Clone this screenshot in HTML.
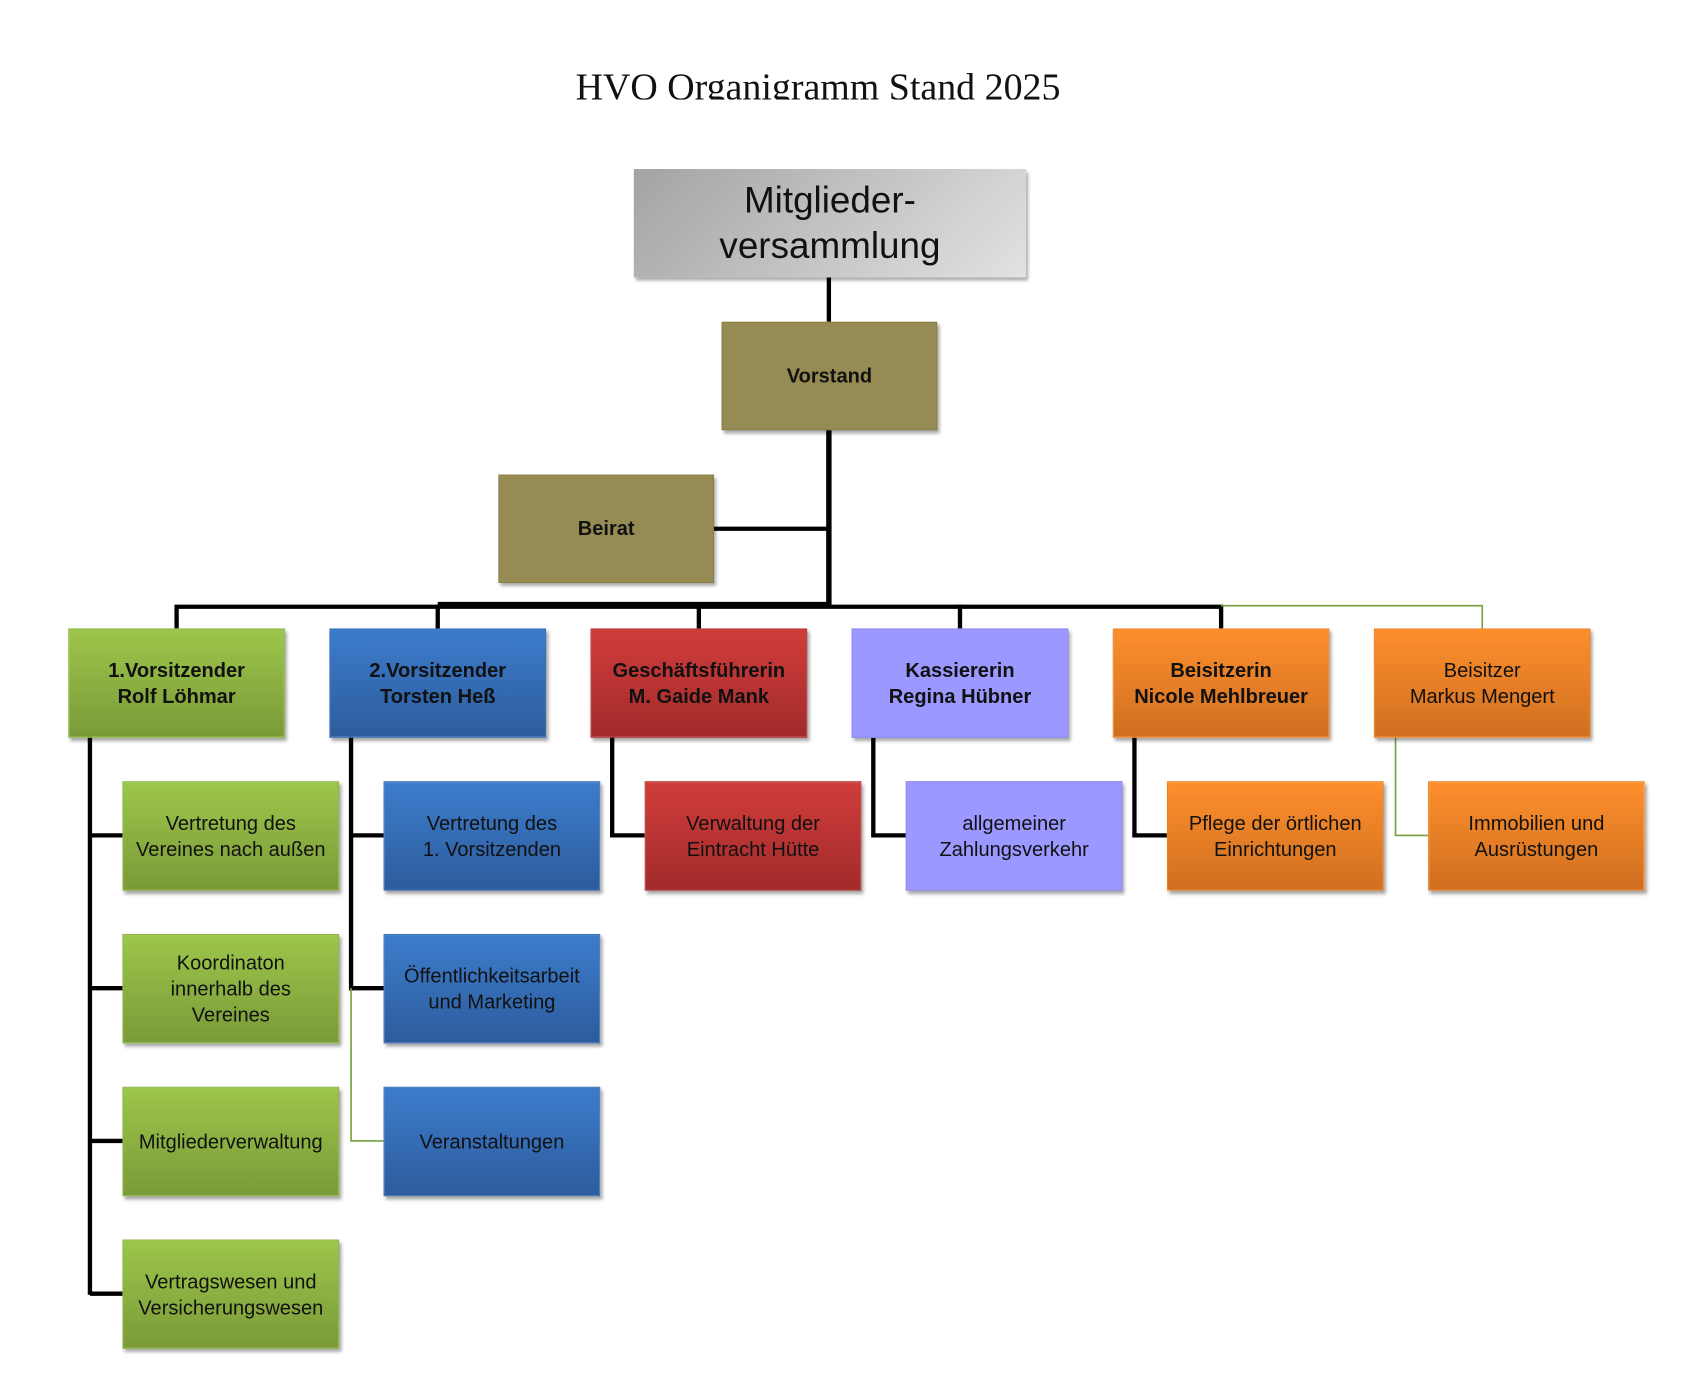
<!DOCTYPE html>
<html><head><meta charset="utf-8"><style>
html,body{margin:0;padding:0;background:#fff;width:1698px;height:1381px;overflow:hidden}
#w{position:absolute;left:0;top:0;width:1560px;height:1269px;transform:scale(1.0835);transform-origin:0 0}
.b{position:absolute;display:flex;align-items:center;justify-content:center;text-align:center;font-family:"Liberation Sans",sans-serif;font-size:18.5px;line-height:24px;color:#111;box-sizing:border-box;box-shadow:2px 3px 3px rgba(0,0,0,.35)}
.g{background:linear-gradient(#9dc64b,#7a9a38);border:1px solid #8db545}
.bl{background:linear-gradient(#3c7ccc,#2d5c9c);border:1px solid #3a6fb5}
.r{background:linear-gradient(#d03d3b,#a22b2b);border:1px solid #b83434}
.p{background:#9b99ff;border:1px solid #8f8df0}
.o{background:linear-gradient(#fd8f2d,#d06f20);border:1px solid #f08528}
.ol{background:#968b52;border:1px solid #8a8048}
.bold{font-weight:bold}
.w200{width:200px;height:101px}
</style></head><body><div id="w">
<div style="position:absolute;left:0;width:1510px;top:56px;height:36px;overflow:hidden;text-align:center;font-family:'Liberation Serif',serif;font-size:35px;line-height:50px;color:#111">HVO Organigramm Stand 2025</div>
<svg width="1560" height="1269" style="position:absolute;left:0;top:0">
<g stroke="#000" fill="none">
<line x1="765" y1="256" x2="765" y2="297" stroke-width="4"/>
<line x1="765" y1="397" x2="765" y2="560" stroke-width="5"/>
<line x1="659" y1="488" x2="765" y2="488" stroke-width="4"/>
<polyline points="163,580 163,560 1127,560 1127,580" stroke-width="4"/>
<line x1="404" y1="558" x2="404" y2="580" stroke-width="4"/>
<line x1="645" y1="558" x2="645" y2="580" stroke-width="4"/>
<line x1="886" y1="558" x2="886" y2="580" stroke-width="4"/>
<line x1="404" y1="558" x2="765" y2="558" stroke-width="5"/>
<line x1="83" y1="680" x2="83" y2="1195" stroke-width="4"/>
<line x1="83" y1="771" x2="113" y2="771" stroke-width="4"/>
<line x1="83" y1="912" x2="113" y2="912" stroke-width="4"/>
<line x1="83" y1="1053" x2="113" y2="1053" stroke-width="4"/>
<line x1="83" y1="1194" x2="113" y2="1194" stroke-width="4"/>
<line x1="324" y1="680" x2="324" y2="914" stroke-width="4"/>
<line x1="324" y1="771" x2="354" y2="771" stroke-width="4"/>
<line x1="324" y1="912" x2="354" y2="912" stroke-width="4"/>
<polyline points="565,680 565,771 595,771" stroke-width="4"/>
<polyline points="806,680 806,771 836,771" stroke-width="4"/>
<polyline points="1047,680 1047,771 1077,771" stroke-width="4"/>
</g>
<g stroke="#77a040" stroke-width="1.5" fill="none">
<polyline points="1127,559 1368,559 1368,580"/>
<polyline points="1288,680 1288,771 1318,771"/>
<polyline points="324,912 324,1053 354,1053"/>
</g>
</svg>
<div class="b" style="left:585px;top:156px;width:362px;height:100px;background:linear-gradient(135deg,#a3a3a3,#e2e2e2);font-size:34px;line-height:42px">Mitglieder-<br>versammlung</div>
<div class="b ol bold" style="left:666px;top:297px;width:199px;height:100px">Vorstand</div>
<div class="b ol bold" style="left:460px;top:438px;width:199px;height:100px">Beirat</div>

<div class="b g bold w200" style="left:63px;top:580px">1.Vorsitzender<br>Rolf Löhmar</div>
<div class="b bl bold w200" style="left:304px;top:580px">2.Vorsitzender<br>Torsten Heß</div>
<div class="b r bold w200" style="left:545px;top:580px">Geschäftsführerin<br>M. Gaide Mank</div>
<div class="b p bold w200" style="left:786px;top:580px">Kassiererin<br>Regina Hübner</div>
<div class="b o bold w200" style="left:1027px;top:580px">Beisitzerin<br>Nicole Mehlbreuer</div>
<div class="b o w200" style="left:1268px;top:580px">Beisitzer<br>Markus Mengert</div>

<div class="b g w200" style="left:113px;top:721px">Vertretung des<br>Vereines nach außen</div>
<div class="b g w200" style="left:113px;top:862px">Koordinaton<br>innerhalb des<br>Vereines</div>
<div class="b g w200" style="left:113px;top:1003px">Mitgliederverwaltung</div>
<div class="b g w200" style="left:113px;top:1144px">Vertragswesen und<br>Versicherungswesen</div>

<div class="b bl w200" style="left:354px;top:721px">Vertretung des<br>1. Vorsitzenden</div>
<div class="b bl w200" style="left:354px;top:862px">Öffentlichkeitsarbeit<br>und Marketing</div>
<div class="b bl w200" style="left:354px;top:1003px">Veranstaltungen</div>

<div class="b r w200" style="left:595px;top:721px">Verwaltung der<br>Eintracht Hütte</div>
<div class="b p w200" style="left:836px;top:721px">allgemeiner<br>Zahlungsverkehr</div>
<div class="b o w200" style="left:1077px;top:721px">Pflege der örtlichen<br>Einrichtungen</div>
<div class="b o w200" style="left:1318px;top:721px">Immobilien und<br>Ausrüstungen</div>
</div></body></html>
